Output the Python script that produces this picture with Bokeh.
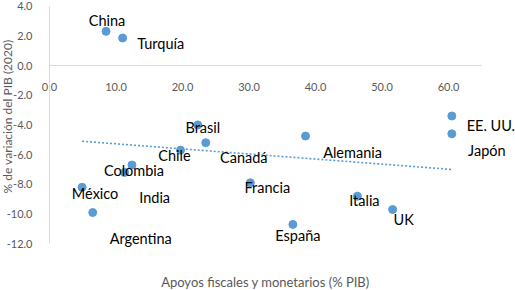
from bokeh.plotting import figure
from bokeh.models import ColumnDataSource, Range1d, FixedTicker, PrintfTickFormatter, Label
from bokeh.core.properties import value
from bokeh.embed import file_html
from bokeh.resources import INLINE

countries = ["China", "Turquía", "Brasil", "Canadá", "Chile", "Colombia", "India",
             "México", "Argentina", "Francia", "Alemania", "EE. UU.", "Japón",
             "Italia", "UK", "España"]
apoyos = [8.5, 11.0, 22.3, 23.5, 19.7, 12.4, 11.3, 4.9, 6.5, 30.2, 38.5, 60.5, 60.5, 46.3, 51.6, 36.6]
pib = [2.3, 1.85, -4.0, -5.2, -5.7, -6.7, -7.2, -8.2, -9.9, -7.9, -4.75, -3.4, -4.6, -8.8, -9.7, -10.7]

trend_x = [4.9, 60.5]
trend_y = [-5.1, -7.0]

x_ticks = [0, 10, 20, 30, 40, 50, 60]
y_ticks = [-12, -10, -8, -6, -4, -2, 0, 2, 4]

# label offsets in screen pixels (dx right, dy down)
label_dx = {"China": 1, "Turquía": 38, "Brasil": 5, "Canadá": 38, "Chile": -6,
            "Colombia": 2, "India": 30, "México": 13, "Argentina": 48, "Francia": 17,
            "Alemania": 47, "EE. UU.": 39, "Japón": 35, "Italia": 7, "UK": 11, "España": 5}
label_dy = {"China": -11, "Turquía": 5, "Brasil": 3, "Canadá": 15, "Chile": 5,
            "Colombia": 6, "India": 25, "México": 6, "Argentina": 26, "Francia": 5,
            "Alemania": 16, "EE. UU.": 10, "Japón": 17, "Italia": 4, "UK": 10, "España": 11}

src = ColumnDataSource(dict(
    x=apoyos, y=pib, name=countries,
    dx=[label_dx[c] for c in countries],
    dy=[label_dy[c] for c in countries],
))

BLUE = "#5B9BD5"
GRAY = "#595959"
FONT = "Lato"

W, H = 515, 290
X0_PX, PX_PER_X = 49.0, 6.65      # pixel of x=0, pixels per x unit
Y0_PX, PX_PER_Y = 65.0, 14.85     # pixel (from top) of y=0, pixels per y unit

p = figure(width=W, height=H, output_backend="svg", toolbar_location=None,
           x_range=Range1d(-X0_PX / PX_PER_X, (W - X0_PX) / PX_PER_X),
           y_range=Range1d((Y0_PX - H) / PX_PER_Y, Y0_PX / PX_PER_Y),
           min_border=0)
p.outline_line_color = None
p.grid.visible = False
p.background_fill_color = "white"
p.border_fill_color = "white"

p.line(trend_x, trend_y, line_color=BLUE, line_width=1.6, line_dash="2 2")
p.scatter("x", "y", source=src, size=8, fill_color=BLUE, line_color=BLUE)
p.text("x", "y", text="name", source=src, x_offset="dx", y_offset="dy",
       text_align="center", text_baseline="middle", text_font=value(FONT),
       text_font_size="14.5px", text_color="black")

for ax in (p.xaxis[0], p.yaxis[0]):
    ax.axis_line_color = "#D9D9D9"
    ax.major_tick_line_color = None
    ax.minor_tick_line_color = None
    ax.major_label_text_color = GRAY
    ax.major_label_text_font = FONT
    ax.major_label_text_font_size = "11px"
    ax.formatter = PrintfTickFormatter(format="%.1f")
    ax.fixed_location = 0

p.xaxis[0].ticker = FixedTicker(ticks=x_ticks)
p.yaxis[0].ticker = FixedTicker(ticks=y_ticks)
p.xaxis[0].bounds = (0, 65)
p.yaxis[0].bounds = (-12, 4)
p.xaxis[0].major_label_standoff = 11
p.yaxis[0].major_label_standoff = 11

p.add_layout(Label(x=265, y=9, x_units="screen", y_units="screen",
                   text="Apoyos fiscales y monetarios (% PIB)",
                   text_align="center", text_baseline="middle", text_font=FONT,
                   text_font_size="13px", text_color=GRAY))
p.add_layout(Label(x=7, y=174, x_units="screen", y_units="screen",
                   text="% de variación del PIB (2020)", angle=1.5708,
                   text_align="center", text_baseline="middle", text_font=FONT,
                   text_font_size="12px", text_color=GRAY))

open("out.html", "w").write(file_html(p, INLINE))
